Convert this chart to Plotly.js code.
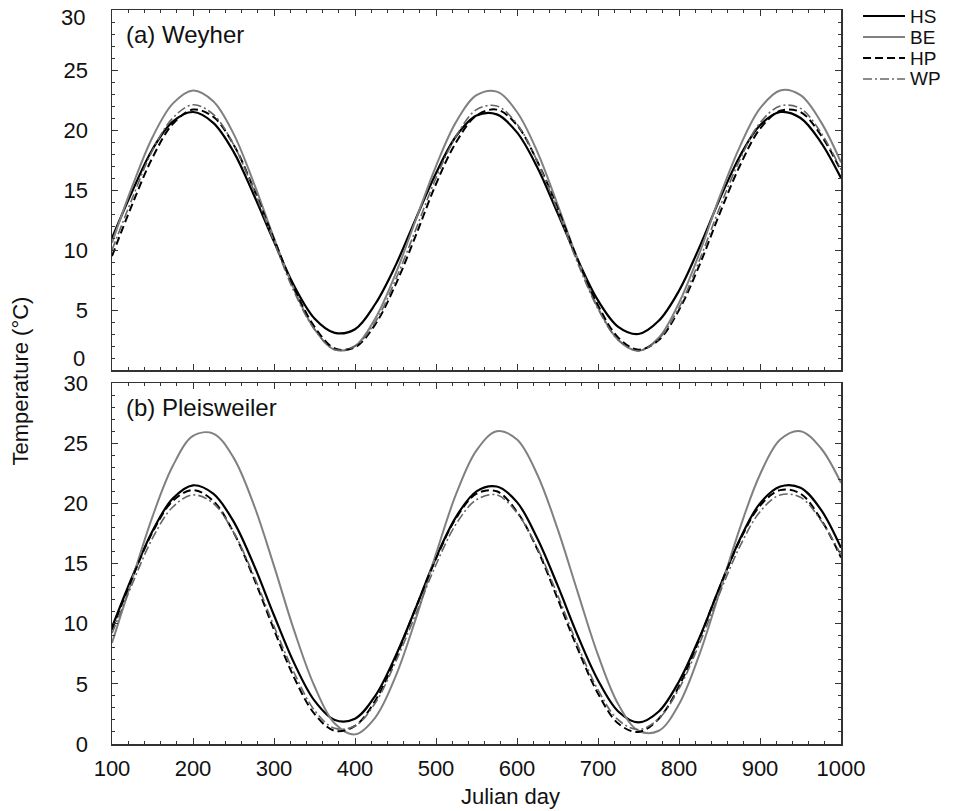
<!DOCTYPE html>
<html>
<head>
<meta charset="utf-8">
<script src="https://cdn.plot.ly/plotly-3.0.1.min.js"></script>
<style>html,body{margin:0;padding:0;background:#fff;}</style>
</head>
<body>
<div id="chart" style="width:956px;height:811px;"></div>
<script>
// Julian day sample positions
const days = [100,125,150,175,200,225,250,275,300,325,350,375,400,425,450,475,500,525,550,575,600,625,650,675,700,725,750,775,800,825,850,875,900,925,950,975,1000];

// (a) Weyher
const weyherHS = [11.0,14.9,18.4,20.7,21.5,20.6,18.2,14.6,10.7,7.0,4.3,3.1,3.4,5.5,8.7,12.6,16.4,19.5,21.2,21.3,19.8,16.9,13.1,9.2,5.8,3.6,3.0,4.1,6.6,10.2,14.2,17.8,20.4,21.5,21.0,19.0,16.0];
const weyherBE = [10.6,15.3,19.4,22.2,23.3,22.4,19.7,15.6,11.0,6.7,3.4,1.7,2.0,4.3,8.0,12.5,17.0,20.7,22.9,23.2,21.5,18.2,13.8,9.2,5.2,2.5,1.6,2.7,5.6,9.7,14.4,18.6,21.8,23.3,22.9,20.7,17.3];
const weyherHP = [9.5,13.8,17.7,20.5,21.7,21.1,18.8,15.1,10.9,6.8,3.6,1.8,1.9,3.8,7.1,11.2,15.5,19.0,21.2,21.7,20.4,17.4,13.5,9.2,5.4,2.7,1.7,2.5,5.0,8.7,13.0,17.0,20.1,21.6,21.5,19.6,16.6];
const weyherWP = [10.0,14.3,18.3,21.0,22.1,21.3,18.8,15.0,10.7,6.5,3.4,1.7,2.0,4.0,7.5,11.7,16.0,19.5,21.7,22.0,20.5,17.4,13.3,8.9,5.1,2.5,1.6,2.6,5.2,9.1,13.5,17.5,20.6,22.0,21.8,19.8,16.7];

// (b) Pleisweiler
const pleisHS = [9.7,13.9,17.7,20.4,21.5,20.8,18.5,14.9,10.7,6.7,3.6,2.0,2.1,4.0,7.3,11.3,15.5,18.9,21.0,21.4,20.1,17.1,13.2,9.0,5.3,2.7,1.8,2.7,5.2,8.8,13.0,17.0,20.0,21.4,21.3,19.5,16.3];
const pleisBE = [8.4,13.7,18.9,23.1,25.6,25.8,23.8,19.9,14.8,9.4,4.8,1.7,0.8,2.2,5.6,10.4,15.8,20.8,24.4,26.0,25.3,22.4,17.9,12.6,7.4,3.3,1.1,1.1,3.3,7.4,12.6,17.9,22.4,25.3,26.0,24.6,21.7];
const pleisHP = [9.5,13.8,17.6,20.2,21.1,20.2,17.6,13.8,9.5,5.5,2.5,1.1,1.5,3.6,7.1,11.3,15.4,18.8,20.8,21.0,19.3,16.2,12.1,7.9,4.2,1.7,1.0,2.1,4.8,8.7,13.0,16.9,19.8,21.1,20.8,18.7,15.5];
const pleisWP = [9.2,13.3,17.1,19.7,20.7,20.0,17.6,14.0,9.8,5.9,2.8,1.3,1.5,3.4,6.8,10.8,14.9,18.3,20.3,20.7,19.2,16.3,12.4,8.2,4.5,2.0,1.2,2.1,4.6,8.3,12.5,16.4,19.3,20.7,20.5,18.6,15.7];

const seriesNames = ['HS','BE','HP','WP'];
const styles = {
  HS: {color:'#000000', width:2.2, dash:'solid'},
  BE: {color:'#808080', width:2.0, dash:'solid'},
  HP: {color:'#000000', width:2.0, dash:'8px,4px'},
  WP: {color:'#666666', width:1.6, dash:'9px,3px,2px,3px'}
};
const topData = {HS: weyherHS, BE: weyherBE, HP: weyherHP, WP: weyherWP};
const botData = {HS: pleisHS, BE: pleisBE, HP: pleisHP, WP: pleisWP};

const traces = [];
seriesNames.forEach(n => {
  traces.push({x: days, y: topData[n], xaxis:'x', yaxis:'y', type:'scatter', mode:'lines', name:n,
    legendgroup:n, showlegend:false, line:Object.assign({shape:'spline', smoothing:1}, styles[n])});
});
seriesNames.forEach(n => {
  traces.push({x: days, y: botData[n], xaxis:'x2', yaxis:'y2', type:'scatter', mode:'lines', name:n,
    legendgroup:n, showlegend:false, line:Object.assign({shape:'spline', smoothing:1}, styles[n])});
});

const FONT = 'Liberation Sans, Arial, sans-serif';
const TXT = '#111';
const axisCommon = {
  showline:true, linecolor:'#333', linewidth:1.5, mirror:'allticks',
  ticks:'inside', ticklen:6, tickwidth:1, tickcolor:'#333',
  showgrid:false, zeroline:false,
  tickfont:{family:FONT, size:22, color:TXT}
};
const xBase = Object.assign({}, axisCommon, {range:[100,1000], dtick:100, tick0:100,
  minor:{dtick:20, ticks:'inside', ticklen:3, tickcolor:'#333', showgrid:false}});
const yBase = Object.assign({}, axisCommon, {range:[0,30], dtick:5, tick0:0, ticklabelstandoff:18,
  minor:{dtick:1, ticks:'inside', ticklen:3, tickcolor:'#333', showgrid:false}});

// custom legend (line samples as shapes, names as annotations)
const legY = [0.9918, 0.9632, 0.9346, 0.9060];
const shapes = [];
const annotations = [
  {text:'(a) Weyher', xref:'x domain', yref:'y domain', x:0.016, y:0.933, xanchor:'left', yanchor:'middle',
   showarrow:false, font:{family:FONT, size:24, color:TXT}},
  {text:'(b) Pleisweiler', xref:'x2 domain', yref:'y2 domain', x:0.016, y:0.931, xanchor:'left', yanchor:'middle',
   showarrow:false, font:{family:FONT, size:24, color:TXT}},
  {text:'Temperature (°C)', xref:'paper', yref:'paper', x:-0.125, y:0.495, xanchor:'center', yanchor:'middle',
   textangle:-90, showarrow:false, font:{family:FONT, size:22, color:TXT}},
  {text:'Julian day', xref:'paper', yref:'paper', x:0.546, y:-0.072, xanchor:'center', yanchor:'middle',
   showarrow:false, font:{family:FONT, size:22, color:TXT}},
  // top panel end labels, nudged inward as in the reference
  {text:'30', xref:'paper', yref:'y', x:-0.034, y:29.4, xanchor:'right', yanchor:'middle',
   showarrow:false, font:{family:FONT, size:22, color:TXT}},
  {text:'0', xref:'paper', yref:'y', x:-0.034, y:1.0, xanchor:'right', yanchor:'middle',
   showarrow:false, font:{family:FONT, size:22, color:TXT}}
];
seriesNames.forEach((n, i) => {
  shapes.push({type:'line', xref:'paper', yref:'paper', x0:1.0302, x1:1.0878, y0:legY[i], y1:legY[i],
    line:{color:styles[n].color, width:styles[n].width, dash:styles[n].dash}});
  annotations.push({text:n, xref:'paper', yref:'paper', x:1.092, y:legY[i], xanchor:'left', yanchor:'middle',
    showarrow:false, font:{family:FONT, size:19, color:TXT}});
});

const layout = {
  width:956, height:811,
  margin:{l:112, r:115, t:10, b:67},
  paper_bgcolor:'#fff', plot_bgcolor:'#fff',
  font:{family:FONT, color:TXT},
  showlegend:false,
  xaxis: Object.assign({}, xBase, {domain:[0,1], anchor:'y', showticklabels:false}),
  yaxis: Object.assign({}, yBase, {domain:[0.5095,1], anchor:'x', tickvals:[5,10,15,20,25]}),
  xaxis2: Object.assign({}, xBase, {domain:[0,1], anchor:'y2', ticklabelstandoff:4}),
  yaxis2: Object.assign({}, yBase, {domain:[0,0.4918], anchor:'x2'}),
  shapes: shapes,
  annotations: annotations
};

Plotly.newPlot('chart', traces, layout, {displayModeBar:false, staticPlot:true});
</script>
</body>
</html>
